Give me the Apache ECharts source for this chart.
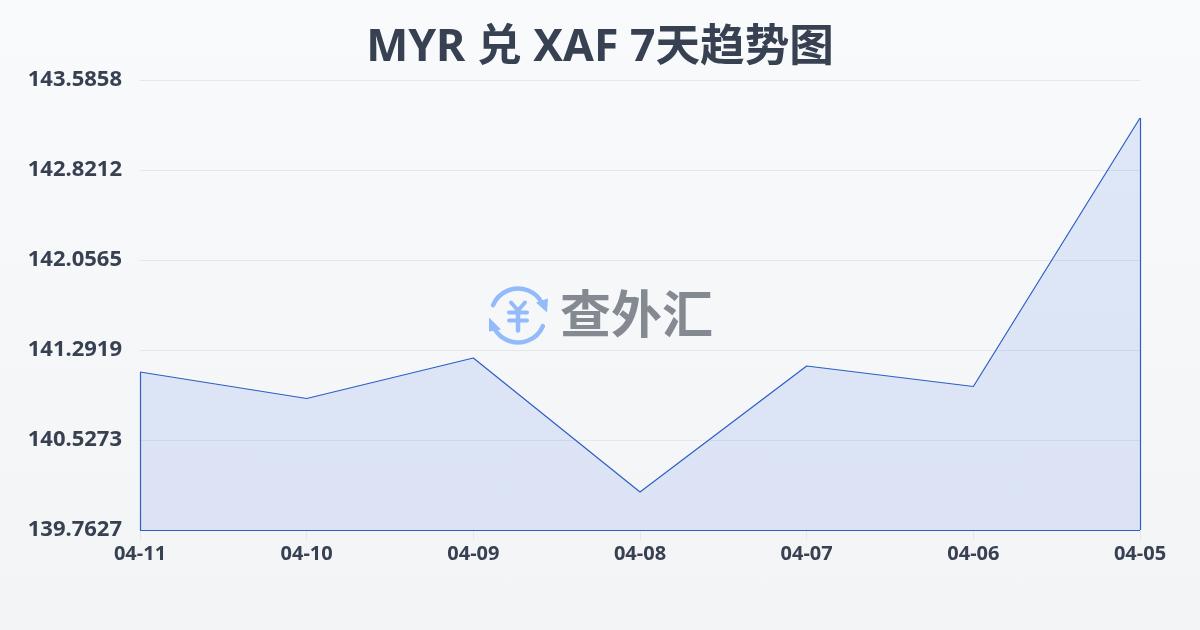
<!DOCTYPE html>
<html><head><meta charset="utf-8">
<style>html,body{margin:0;padding:0;width:1200px;height:630px;overflow:hidden;background:linear-gradient(180deg,#f8fafc 0%,#f3f4f6 100%);}#c{width:1200px;height:630px;}</style>
<script src="https://cdn.jsdelivr.net/npm/echarts@6/dist/echarts.min.js"></script>
</head><body><div id="c"></div>
<script>
const categories = ['04-11','04-10','04-09','04-08','04-07','04-06','04-05'];
const rates = [141.105,140.880,141.224,140.0855,141.156,140.982,143.263];
const yTicks = [139.7627,140.5273,141.2919,142.0565,142.8212,143.5858];
const titleText = 'MYR 兑 XAF 7天趋势图';
const brandText = '查外汇';
const yMin = yTicks[0], yMax = yTicks[yTicks.length-1];
const lastCat = categories[categories.length-1], lastVal = rates[rates.length-1];
const fontFam = '"Noto Sans","Noto Sans CJK SC",sans-serif';
const chart = echarts.init(document.getElementById('c'),null,{renderer:'canvas'});
const iconBlue = '#93bbfb';
chart.setOption({
  backgroundColor:'transparent',
  animation:false,
  title:{text:titleText,left:'center',top:21,textStyle:{fontFamily:fontFam,fontSize:44.6,fontWeight:'bold',color:'#374151'}},
  grid:{left:140,right:60,top:80,bottom:100},
  xAxis:{type:'category',data:categories,boundaryGap:false,
    axisLine:{show:false},
    axisTick:{show:true,alignWithLabel:true,length:10,lineStyle:{color:'#e5e7eb',width:1}},
    axisLabel:{fontFamily:fontFam,fontSize:20,fontWeight:'bold',color:'#374151',margin:14,hideOverlap:false,interval:0},
    splitLine:{show:false}},
  yAxis:{type:'value',min:yMin,max:yMax,scale:true,
    axisLine:{show:false},axisTick:{show:false,customValues:yTicks},
    axisLabel:{customValues:yTicks,fontFamily:fontFam,fontSize:22,fontWeight:'bold',color:'#374151',margin:18,formatter:v=>v.toFixed(4),verticalAlign:'middle',padding:[0,0,3,0]},
    splitLine:{show:true,lineStyle:{color:'#e5e7eb',width:1}}},
  series:[{type:'line',data:rates,symbol:'none',smooth:false,z:3,
    lineStyle:{color:'#2d5fc4',width:1.2},
    areaStyle:{color:'rgba(50,100,230,0.18)',origin:'start'},
    markLine:{silent:true,symbol:'none',label:{show:false},emphasis:{disabled:true},
      lineStyle:{color:'#2d5fc4',width:1.2,type:'solid'},
      data:[
        [{coord:[categories[0],yMin]},{coord:[categories[0],rates[0]]}],
        [{coord:[categories[0],yMin]},{coord:[lastCat,yMin]}],
        [{coord:[lastCat,yMin]},{coord:[lastCat,lastVal]}]
      ]}
  }],
  graphic:{elements:[
    {type:'group',left:489,top:286,z:10,silent:true,children:[
      {type:'arc',shape:{cx:31,cy:29,r:27,startAngle:-2.75,endAngle:-0.5},style:{stroke:iconBlue,lineWidth:4.5,fill:null,lineCap:'round'}},
      {type:'arc',shape:{cx:31,cy:29,r:27,startAngle:0.4,endAngle:2.6},style:{stroke:iconBlue,lineWidth:4.5,fill:null,lineCap:'round'}},
      {type:'polygon',shape:{points:[[49,16],[61,12],[60,26]]},style:{fill:iconBlue}},
      {type:'polygon',shape:{points:[[2,31],[14,43],[2,45]]},style:{fill:iconBlue}},
      {type:'polyline',shape:{points:[[24,16],[31,24],[38,16]]},style:{stroke:iconBlue,lineWidth:4,fill:null,lineCap:'round'}},
      {type:'line',shape:{x1:31,y1:24,x2:31,y2:44},style:{stroke:iconBlue,lineWidth:4.5,lineCap:'round'}},
      {type:'line',shape:{x1:22,y1:26,x2:40,y2:26},style:{stroke:iconBlue,lineWidth:4,lineCap:'round'}},
      {type:'line',shape:{x1:22,y1:34,x2:40,y2:34},style:{stroke:iconBlue,lineWidth:4,lineCap:'round'}}
    ]},
    {type:'text',left:560,top:293,z:10,silent:true,style:{text:brandText,fontFamily:fontFam,fontSize:51,fontWeight:'bold',fill:'#858a92'}}
  ]}
});
</script></body></html>
